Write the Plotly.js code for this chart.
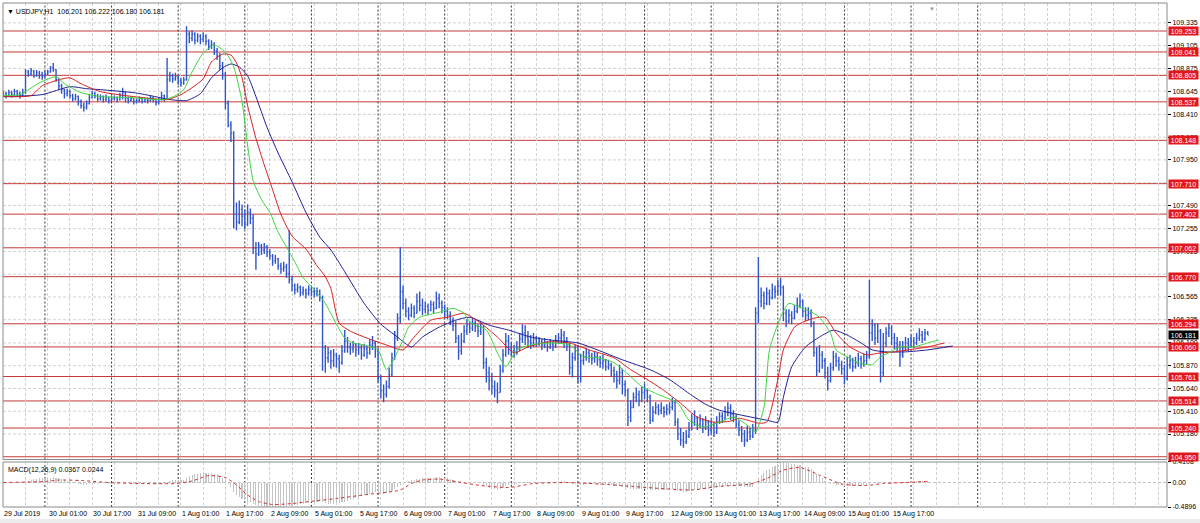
<!DOCTYPE html>
<html><head><meta charset="utf-8">
<script src="https://cdn.plot.ly/plotly-3.0.1.min.js"></script>
<style>html,body{margin:0;padding:0;background:#fff;}#chart{width:1200px;height:523px;}</style>
</head><body><div id="chart"></div>
<script>
// ---- H1 bars, USDJPY, 29 Jul 09:00 .. 15 Aug 22:00 (bar index 0..333) ----
const openP = [
108.61,108.62,108.60,108.63,108.61,108.64,108.62,108.60,
108.63,108.84,108.82,108.85,108.80,108.83,108.81,108.79,
108.82,108.84,108.88,108.86,108.76,108.70,108.66,108.62,
108.64,108.60,108.57,108.59,108.54,108.50,108.48,108.52,
108.58,108.62,108.60,108.57,108.59,108.56,108.58,108.55,
108.57,108.58,108.56,108.60,108.63,108.57,108.55,108.57,
108.54,108.55,108.57,108.54,108.56,108.55,108.58,108.56,
108.53,108.56,108.60,108.57,108.76,108.80,108.77,108.79,
108.75,108.73,108.76,109.22,109.18,109.22,109.16,109.20,
109.17,109.20,109.15,109.10,109.12,109.05,109.00,108.90,
108.82,108.52,108.30,108.22,107.40,107.32,107.45,107.38,
107.30,107.42,107.36,107.06,107.00,107.08,107.04,107.07,
107.02,106.98,106.93,106.95,106.88,106.85,106.87,106.80,
106.74,106.68,106.64,106.66,106.61,106.63,106.60,106.64,
106.62,106.60,106.62,106.56,106.05,105.95,106.00,105.92,
105.98,105.94,105.90,106.02,106.12,106.06,106.04,106.08,
106.03,106.05,105.98,106.04,106.00,106.08,106.10,106.02,
105.75,105.62,105.58,105.66,105.78,105.95,106.15,106.35,
106.62,106.50,106.42,106.38,106.45,106.40,106.52,106.48,
106.44,106.47,106.43,106.49,106.45,106.55,106.50,106.46,
106.42,106.38,106.33,106.28,106.15,106.02,106.12,106.22,
106.28,106.25,106.30,106.27,106.22,106.26,105.90,105.80,
105.72,105.66,105.62,105.60,105.82,105.98,106.12,106.05,
106.02,106.00,106.05,106.14,106.20,106.16,106.12,106.10,
106.14,106.10,106.12,106.08,106.11,106.06,106.09,106.07,
106.12,106.15,106.18,106.12,106.08,105.85,105.95,106.02,
105.98,105.92,105.96,106.00,105.97,105.94,105.96,105.93,
105.90,105.92,105.86,105.88,105.82,105.78,105.72,105.80,
105.68,105.62,105.35,105.45,105.55,105.58,105.52,105.60,
105.62,105.55,105.32,105.40,105.45,105.42,105.44,105.40,
105.43,105.45,105.50,105.30,105.18,105.12,105.10,105.16,
105.22,105.30,105.34,105.28,105.32,105.25,105.30,105.22,
105.27,105.20,105.30,105.36,105.34,105.40,105.44,105.38,
105.35,105.28,105.22,105.18,105.12,105.20,105.16,105.22,
106.40,106.52,106.58,106.50,106.60,106.56,106.64,106.62,
106.68,106.66,106.40,106.32,106.38,106.35,106.42,106.48,
106.52,106.42,106.38,106.40,106.30,106.00,105.82,105.98,
105.92,105.80,105.72,105.85,105.96,105.92,105.88,105.84,
105.74,105.88,105.92,105.86,105.90,105.94,105.89,105.92,
105.96,106.20,106.28,106.15,106.22,105.80,106.10,106.20,
106.25,106.15,106.10,106.08,105.98,106.05,106.10,106.08,
106.12,106.10,106.15,106.18,106.14,106.201];
const highP = [
108.65,108.64,108.66,108.65,108.67,108.66,108.64,108.67,
108.87,108.86,108.88,108.86,108.86,108.85,108.84,108.85,
108.86,108.90,108.93,108.87,108.78,108.72,108.67,108.67,
108.66,108.62,108.62,108.60,108.56,108.53,108.55,108.62,
108.65,108.64,108.62,108.61,108.60,108.61,108.59,108.60,
108.60,108.59,108.63,108.68,108.64,108.59,108.59,108.57,
108.57,108.59,108.58,108.58,108.58,108.60,108.59,108.57,
108.58,108.64,108.61,108.98,108.84,108.82,108.83,108.80,
108.78,108.79,109.30,109.25,109.26,109.24,109.23,109.22,
109.24,109.22,109.17,109.16,109.14,109.08,109.03,108.94,
108.84,108.55,108.34,108.24,107.52,107.54,107.50,107.45,
107.50,107.46,107.40,107.12,107.12,107.10,107.11,107.09,
107.05,107.00,106.99,106.96,106.91,106.92,106.90,107.24,
106.78,106.70,106.70,106.68,106.67,106.65,106.68,106.67,
106.66,106.66,106.64,106.58,106.08,106.06,106.03,106.04,
106.00,105.98,106.08,106.23,106.16,106.10,106.12,106.10,
106.10,106.08,106.09,106.07,106.14,106.17,106.12,106.05,
105.78,105.68,105.72,105.85,106.00,106.22,106.40,107.07,
106.68,106.55,106.46,106.50,106.48,106.60,106.62,106.55,
106.52,106.50,106.53,106.52,106.62,106.60,106.53,106.49,
106.46,106.42,106.36,106.32,106.18,106.20,106.28,106.34,
106.32,106.35,106.33,106.29,106.31,106.28,105.95,105.86,
105.80,105.72,105.70,105.88,106.04,106.20,106.18,106.10,
106.08,106.12,106.20,106.29,106.28,106.22,106.18,106.20,
106.17,106.16,106.14,106.15,106.12,106.14,106.12,106.18,
106.20,106.24,106.22,106.16,106.10,106.00,106.08,106.08,
105.99,106.02,106.05,106.03,106.00,106.02,106.00,105.97,
105.98,105.94,105.93,105.90,105.86,105.82,105.88,105.84,
105.72,105.64,105.52,105.60,105.65,105.62,105.66,105.69,
105.64,105.58,105.46,105.50,105.48,105.50,105.46,105.48,
105.50,105.55,105.52,105.34,105.24,105.20,105.22,105.30,
105.38,105.42,105.36,105.38,105.34,105.36,105.32,105.33,
105.30,105.36,105.40,105.40,105.46,105.50,105.48,105.42,
105.38,105.32,105.26,105.22,105.26,105.24,105.28,106.46,
106.97,106.66,106.62,106.66,106.64,106.70,106.68,106.74,
106.76,106.68,106.44,106.44,106.42,106.48,106.56,106.60,
106.54,106.46,106.46,106.44,106.32,106.06,106.08,106.02,
105.95,105.86,105.90,106.02,106.00,105.96,105.92,105.88,
105.96,105.98,105.95,105.96,106.00,105.97,105.99,106.02,
106.74,106.34,106.30,106.30,106.24,106.20,106.26,106.30,
106.28,106.20,106.16,106.12,106.12,106.16,106.15,106.18,
106.16,106.20,106.25,106.22,106.24,106.222];
const lowP = [
108.59,108.57,108.59,108.58,108.60,108.59,108.57,108.59,
108.62,108.79,108.80,108.78,108.79,108.77,108.76,108.78,
108.80,108.83,108.84,108.74,108.66,108.62,108.57,108.59,
108.57,108.54,108.55,108.50,108.47,108.44,108.46,108.51,
108.57,108.57,108.54,108.55,108.53,108.54,108.52,108.54,
108.55,108.53,108.55,108.56,108.53,108.52,108.54,108.51,
108.52,108.53,108.52,108.53,108.52,108.54,108.53,108.50,
108.51,108.55,108.54,108.56,108.74,108.73,108.75,108.71,
108.69,108.71,108.75,109.13,109.15,109.12,109.14,109.12,
109.14,109.11,109.06,109.07,109.01,108.96,108.86,108.76,
108.46,108.28,108.13,107.26,107.24,107.30,107.28,107.25,
107.28,107.30,107.00,106.84,106.98,106.99,107.00,106.97,
106.94,106.88,106.90,106.84,106.80,106.82,106.76,106.70,
106.62,106.59,106.61,106.57,106.58,106.55,106.58,106.57,
106.56,106.57,106.52,105.82,105.80,105.90,105.84,105.86,
105.85,105.80,105.88,106.00,106.00,105.98,106.00,105.96,
105.98,105.93,105.96,105.94,105.98,106.03,105.95,105.70,
105.54,105.50,105.55,105.64,105.76,105.93,106.12,106.30,
106.44,106.36,106.33,106.36,106.35,106.40,106.42,106.38,
106.40,106.38,106.42,106.40,106.44,106.45,106.40,106.36,
106.34,106.28,106.22,106.10,105.93,105.98,106.10,106.18,
106.20,106.22,106.21,106.16,106.18,105.84,105.70,105.62,
105.58,105.55,105.49,105.60,105.80,105.96,105.98,105.96,
105.95,105.98,106.02,106.10,106.08,106.05,106.04,106.06,
106.06,106.07,106.03,106.05,106.01,106.04,106.02,106.05,
106.09,106.10,106.05,106.02,105.78,105.75,105.92,105.69,
105.70,105.88,105.92,105.90,105.88,105.90,105.87,105.85,
105.84,105.82,105.83,105.76,105.70,105.64,105.68,105.58,
105.56,105.26,105.30,105.44,105.50,105.46,105.50,105.54,
105.50,105.28,105.30,105.38,105.37,105.38,105.35,105.37,
105.38,105.42,105.26,105.12,105.06,105.04,105.08,105.14,
105.22,105.26,105.22,105.24,105.19,105.22,105.16,105.18,
105.15,105.18,105.28,105.29,105.32,105.36,105.32,105.30,
105.24,105.16,105.10,105.05,105.10,105.12,105.14,105.18,
106.30,106.46,106.44,106.48,106.48,106.54,106.55,106.58,
106.58,106.32,106.26,106.30,106.29,106.34,106.40,106.45,
106.36,106.32,106.33,106.26,105.96,105.76,105.80,105.84,
105.74,105.62,105.70,105.82,105.86,105.82,105.78,105.68,
105.72,105.84,105.81,105.84,105.86,105.84,105.86,105.88,
105.94,106.12,106.08,106.10,105.70,105.76,106.06,106.16,
106.08,106.04,106.02,105.86,105.95,106.02,106.02,106.05,
106.05,106.08,106.12,106.10,106.12,106.180];
const closeP = [
108.62,108.60,108.63,108.61,108.64,108.62,108.60,108.63,
108.84,108.82,108.85,108.80,108.83,108.81,108.79,108.82,
108.84,108.88,108.86,108.76,108.70,108.66,108.62,108.64,
108.60,108.57,108.59,108.54,108.50,108.48,108.52,108.58,
108.62,108.60,108.57,108.59,108.56,108.58,108.55,108.57,
108.58,108.56,108.60,108.63,108.57,108.55,108.57,108.54,
108.55,108.57,108.54,108.56,108.55,108.58,108.56,108.53,
108.56,108.60,108.57,108.76,108.80,108.77,108.79,108.75,
108.73,108.76,109.22,109.18,109.22,109.16,109.20,109.17,
109.20,109.15,109.10,109.12,109.05,109.00,108.90,108.82,
108.52,108.30,108.22,107.40,107.32,107.45,107.38,107.30,
107.42,107.36,107.06,107.00,107.08,107.04,107.07,107.02,
106.98,106.93,106.95,106.88,106.85,106.87,106.80,106.74,
106.68,106.64,106.66,106.61,106.63,106.60,106.64,106.62,
106.60,106.62,106.56,106.05,105.95,106.00,105.92,105.98,
105.94,105.90,106.02,106.12,106.06,106.04,106.08,106.03,
106.05,105.98,106.04,106.00,106.08,106.10,106.02,105.75,
105.62,105.58,105.66,105.78,105.95,106.15,106.35,106.62,
106.50,106.42,106.38,106.45,106.40,106.52,106.48,106.44,
106.47,106.43,106.49,106.45,106.55,106.50,106.46,106.42,
106.38,106.33,106.28,106.15,106.02,106.12,106.22,106.28,
106.25,106.30,106.27,106.22,106.26,105.90,105.80,105.72,
105.66,105.62,105.60,105.82,105.98,106.12,106.05,106.02,
106.00,106.05,106.14,106.20,106.16,106.12,106.10,106.14,
106.10,106.12,106.08,106.11,106.06,106.09,106.07,106.12,
106.15,106.18,106.12,106.08,105.85,105.95,106.02,105.98,
105.92,105.96,106.00,105.97,105.94,105.96,105.93,105.90,
105.92,105.86,105.88,105.82,105.78,105.72,105.80,105.68,
105.62,105.35,105.45,105.55,105.58,105.52,105.60,105.62,
105.55,105.32,105.40,105.45,105.42,105.44,105.40,105.43,
105.45,105.50,105.30,105.18,105.12,105.10,105.16,105.22,
105.30,105.34,105.28,105.32,105.25,105.30,105.22,105.27,
105.20,105.30,105.36,105.34,105.40,105.44,105.38,105.35,
105.28,105.22,105.18,105.12,105.20,105.16,105.22,106.40,
106.52,106.58,106.50,106.60,106.56,106.64,106.62,106.68,
106.66,106.40,106.32,106.38,106.35,106.42,106.48,106.52,
106.42,106.38,106.40,106.30,106.00,105.82,105.98,105.92,
105.80,105.72,105.85,105.96,105.92,105.88,105.84,105.74,
105.88,105.92,105.86,105.90,105.94,105.89,105.92,105.96,
106.20,106.28,106.15,106.22,105.80,106.10,106.20,106.25,
106.15,106.10,106.08,105.98,106.05,106.10,106.08,106.12,
106.10,106.15,106.18,106.14,106.20,106.181];

// ---- Alligator lines (read at sample bars; shifted forward past the last bar) ----
const lipsBar = [0,6,13,19,22,28,35,46,58,62,65,68,72,76,80,83,86,88,90,93,96,99,102,105,108,112,116,120,123,126,130,135,138,140,144,146,150,157,162,166,168,174,178,181,185,190,197,204,209,214,220,226,230,235,243,247,252,258,263,269,271,274,276,280,283,287,290,294,298,300,304,308,313,316,319,323,328,333,337];
const lipsVal = [108.60,108.61,108.73,108.79,108.72,108.63,108.59,108.58,108.56,108.60,108.66,108.84,109.03,109.11,109.04,108.89,108.54,108.10,107.74,107.55,107.42,107.22,107.07,106.92,106.76,106.64,106.50,106.29,106.15,106.10,106.08,106.03,105.83,105.90,106.13,106.26,106.36,106.41,106.45,106.40,106.31,106.23,106.00,105.86,106.03,106.08,106.10,106.08,105.96,105.95,105.90,105.76,105.66,105.59,105.49,105.32,105.25,105.30,105.35,105.25,105.20,105.45,106.03,106.36,106.50,106.46,106.43,106.36,106.20,106.03,105.96,105.90,105.88,105.96,106.00,106.06,106.06,106.10,106.13];
const teethBar = [0,10,14,20,24,28,35,47,59,64,68,72,75,79,82,84,86,88,91,94,97,100,104,109,113,116,118,121,125,130,138,144,148,154,160,166,172,178,184,189,196,204,211,220,226,232,238,244,250,256,262,265,272,275,279,281,285,288,292,296,300,305,311,316,321,326,333,339];
const teethVal = [108.59,108.60,108.70,108.76,108.78,108.72,108.64,108.59,108.56,108.61,108.68,108.77,108.94,109.02,109.01,108.93,108.78,108.50,108.17,107.90,107.65,107.40,107.18,107.05,106.88,106.77,106.65,106.30,106.22,106.16,106.08,106.03,106.16,106.33,106.36,106.40,106.30,106.16,106.00,106.06,106.11,106.10,106.03,105.95,105.83,105.73,105.62,105.49,105.35,105.30,105.31,105.34,105.29,105.30,105.73,106.03,106.26,106.31,106.35,106.36,106.20,106.06,105.98,106.00,106.01,106.03,106.06,106.10];
const jawBar = [0,14,24,30,35,47,53,60,66,71,75,79,82,85,88,91,95,99,104,109,114,118,123,130,136,142,147,151,157,163,168,175,182,190,197,207,214,223,233,240,247,253,258,266,275,279,281,284,289,294,299,304,309,313,318,325,333,342];
const jawVal = [108.59,108.61,108.69,108.67,108.66,108.63,108.60,108.56,108.55,108.62,108.78,108.88,108.92,108.89,108.80,108.59,108.28,108.02,107.73,107.42,107.17,107.04,106.82,106.50,106.29,106.16,106.06,106.16,106.26,106.33,106.36,106.28,106.23,106.16,106.13,106.10,106.03,105.93,105.83,105.73,105.59,105.48,105.42,105.37,105.32,105.30,105.55,105.86,106.06,106.16,106.23,106.18,106.10,106.03,106.01,106.01,106.03,106.07];

// ---- MACD(12,26,9): histogram per bar, signal line at sample bars ----
const macdMain = [
0.00,0.00,0.01,0.00,0.01,0.01,0.00,0.01,
0.03,0.04,0.06,0.07,0.08,0.09,0.09,0.09,
0.10,0.10,0.11,0.10,0.09,0.07,0.05,0.04,
0.03,0.01,0.00,-0.02,-0.03,-0.04,-0.04,-0.03,
-0.03,-0.02,-0.02,-0.01,-0.01,-0.01,-0.02,-0.02,
-0.02,-0.02,-0.01,0.00,0.00,-0.01,-0.01,-0.02,
-0.02,-0.02,-0.02,-0.02,-0.02,-0.01,-0.01,-0.02,
-0.02,-0.02,-0.02,0.02,0.04,0.05,0.06,0.06,
0.06,0.06,0.10,0.13,0.16,0.17,0.18,0.19,
0.20,0.20,0.20,0.19,0.18,0.17,0.14,0.10,
0.05,-0.02,-0.08,-0.18,-0.25,-0.29,-0.32,-0.35,
-0.38,-0.39,-0.43,-0.45,-0.47,-0.48,-0.48,-0.49,
-0.4896,-0.49,-0.49,-0.49,-0.48,-0.48,-0.47,-0.46,
-0.46,-0.45,-0.44,-0.43,-0.42,-0.41,-0.40,-0.39,
-0.39,-0.38,-0.37,-0.39,-0.41,-0.42,-0.42,-0.42,
-0.41,-0.41,-0.39,-0.38,-0.36,-0.34,-0.32,-0.31,
-0.29,-0.27,-0.25,-0.24,-0.22,-0.20,-0.18,-0.19,
-0.21,-0.22,-0.21,-0.19,-0.17,-0.13,-0.09,-0.04,
0.00,0.02,0.04,0.05,0.06,0.07,0.08,0.09,
0.09,0.09,0.10,0.10,0.11,0.11,0.10,0.09,
0.08,0.07,0.05,0.04,0.01,-0.01,-0.01,-0.01,
-0.01,0.00,0.00,0.00,0.00,-0.04,-0.07,-0.10,
-0.11,-0.13,-0.14,-0.12,-0.10,-0.07,-0.05,-0.04,
-0.04,-0.03,-0.01,0.01,0.02,0.02,0.02,0.02,
0.02,0.02,0.02,0.02,0.02,0.02,0.02,0.02,
0.03,0.03,0.03,0.02,-0.01,-0.02,-0.03,-0.03,
-0.04,-0.04,-0.03,-0.03,-0.03,-0.03,-0.04,-0.04,
-0.04,-0.04,-0.04,-0.05,-0.06,-0.07,-0.07,-0.08,
-0.09,-0.11,-0.12,-0.12,-0.12,-0.12,-0.12,-0.12,
-0.12,-0.14,-0.14,-0.14,-0.14,-0.14,-0.14,-0.14,
-0.14,-0.13,-0.14,-0.16,-0.17,-0.18,-0.18,-0.17,
-0.16,-0.15,-0.14,-0.13,-0.13,-0.12,-0.12,-0.11,
-0.10,-0.10,-0.09,-0.08,-0.07,-0.06,-0.06,-0.06,
-0.06,-0.06,-0.07,-0.08,-0.08,-0.08,-0.08,0.01,
0.09,0.15,0.20,0.25,0.28,0.32,0.34,0.37,
0.39,0.4108,0.40,0.39,0.38,0.37,0.36,0.35,
0.34,0.32,0.31,0.28,0.24,0.18,0.13,0.09,
0.04,0.00,-0.02,-0.03,-0.04,-0.04,-0.05,-0.07,
-0.07,-0.07,-0.07,-0.07,-0.06,-0.06,-0.05,-0.04,
-0.03,-0.01,0.00,0.01,-0.01,-0.01,0.00,0.01,
0.02,0.02,0.02,0.01,0.01,0.02,0.02,0.02,
0.02,0.03,0.03,0.03,0.035,0.0367];
const signalBar = [0,15,20,28,38,50,62,68,74,80,84,88,92,97,104,112,120,131,143,147,151,157,163,172,182,191,203,215,227,248,257,269,275,281,287,294,302,311,317,325,333];
const signalVal = [0.00,0.02,0.05,0.04,0.00,-0.02,-0.02,0.03,0.14,0.10,-0.05,-0.25,-0.38,-0.44,-0.42,-0.37,-0.32,-0.24,-0.15,-0.02,0.05,0.07,0.02,-0.06,-0.10,-0.02,0.00,-0.03,-0.08,-0.15,-0.08,-0.03,0.08,0.25,0.30,0.15,-0.03,-0.06,-0.02,0.00,0.0244];

// ---- levels, ticks, labels ----
const levels = [109.253,109.041,108.805,108.537,108.148,107.710,107.402,107.062,106.770,106.294,106.060,105.761,105.514,105.240,104.950];
const priceTicks = [109.335,109.105,108.875,108.645,108.410,108.180,107.950,107.490,107.255,107.025,106.565,106.335,106.100,105.870,105.640,105.410,105.180];
const priceGrid = [109.335,109.105,108.875,108.645,108.410,108.180,107.950,107.720,107.490,107.255,107.025,106.795,106.565,106.335,106.100,105.870,105.640,105.410,105.180];
const lastPrice = 106.181;
const timeLabels = ["29 Jul 2019","30 Jul 01:00","30 Jul 17:00","31 Jul 09:00","1 Aug 01:00","1 Aug 17:00","2 Aug 09:00","5 Aug 01:00","5 Aug 17:00","6 Aug 09:00","7 Aug 01:00","7 Aug 17:00","8 Aug 09:00","9 Aug 01:00","9 Aug 17:00","12 Aug 09:00","13 Aug 01:00","13 Aug 17:00","14 Aug 09:00","15 Aug 01:00","15 Aug 17:00"];
const timeLabelBar = [0,16,32,48,64,80,96,112,128,144,160,176,192,208,224,240,256,272,288,304,320];
const daySeparatorBar = [15,39,63,87,111,135,159,183,207,231,255,279,303,327,351];
const macdTicks = [0.4108,0,-0.4896];
const macdTickText = ["0.4108","0.00","-0.4896"];

const barIdx = closeP.map((_, i) => i);
const gridVals = []; for (let v = 0; v <= 416; v += 8) gridVals.push(v);

const FONT = "Liberation Sans, Arial, sans-serif";
const barColor = "#2f55c8";
const gridColor = "#d2d2d2";
const gridDash = "3px,2px";

const traces = [
  {type:"ohlc", x:barIdx, open:openP, high:highP, low:lowP, close:closeP, xaxis:"x", yaxis:"y",
   increasing:{line:{color:barColor,width:1.4}}, decreasing:{line:{color:barColor,width:1.4}}, tickwidth:0.35, hoverinfo:"skip"},
  {type:"scatter", mode:"lines", x:jawBar, y:jawVal, xaxis:"x", yaxis:"y", line:{color:"#1f1f95",width:1,shape:"spline",smoothing:0.6}, hoverinfo:"skip"},
  {type:"scatter", mode:"lines", x:teethBar, y:teethVal, xaxis:"x", yaxis:"y", line:{color:"#d42020",width:1,shape:"spline",smoothing:0.6}, hoverinfo:"skip"},
  {type:"scatter", mode:"lines", x:lipsBar, y:lipsVal, xaxis:"x", yaxis:"y", line:{color:"#3fd43f",width:1,shape:"spline",smoothing:0.6}, hoverinfo:"skip"},
  {type:"bar", x:barIdx, y:macdMain, xaxis:"x", yaxis:"y2", width:0.4, marker:{color:"#c4c4c4",line:{width:0}}, hoverinfo:"skip"},
  {type:"scatter", mode:"lines", x:signalBar, y:signalVal, xaxis:"x", yaxis:"y2", line:{color:"#d03030",width:1,dash:"dot",shape:"spline",smoothing:0.6}, hoverinfo:"skip"}
];

const shapes = [];
// horizontal price grid (incl. levels hidden behind the red price boxes)
priceGrid.forEach(v => shapes.push({type:"line", xref:"paper", x0:0, x1:1, yref:"y", y0:v, y1:v, layer:"below", line:{color:gridColor, width:1, dash:gridDash}}));
// red horizontal levels
levels.forEach(v => shapes.push({type:"line", xref:"paper", x0:0, x1:1, yref:"y", y0:v, y1:v, layer:"below", line:{color:"#c83a3a", width:1}}));
// day separators
daySeparatorBar.forEach(d => {
  shapes.push({type:"line", xref:"x", x0:d, x1:d, yref:"y domain", y0:0, y1:1, layer:"below", line:{color:"#333", width:1, dash:"2px,2px"}});
  shapes.push({type:"line", xref:"x", x0:d, x1:d, yref:"y2 domain", y0:0, y1:1, layer:"below", line:{color:"#333", width:1, dash:"2px,2px"}});
});
// MACD zero line
shapes.push({type:"line", xref:"paper", x0:0, x1:1, yref:"y2", y0:0, y1:0, layer:"below", line:{color:"#c0c0c0", width:1, dash:gridDash}});
// panel frames
shapes.push({type:"rect", xref:"paper", x0:0, x1:1, yref:"y domain", y0:0, y1:1, line:{color:"#8a8a8a", width:1}});
shapes.push({type:"rect", xref:"paper", x0:0, x1:1, yref:"y2 domain", y0:0, y1:1, line:{color:"#8a8a8a", width:1}});
// window bottom strip
shapes.push({type:"rect", xref:"paper", x0:-0.01, x1:1.04, yref:"paper", y0:-0.024, y1:-0.04, fillcolor:"#ececec", line:{width:0}});

const annotations = [];
levels.forEach(v => annotations.push({xref:"paper", x:1, xanchor:"left", xshift:1, yref:"y", y:v, yanchor:"middle",
  text:v.toFixed(3), showarrow:false, bgcolor:"#e3171b", borderpad:0, width:29, height:8, align:"center",
  font:{family:FONT, size:7, color:"#ffffff"}}));
annotations.push({xref:"paper", x:1, xanchor:"left", xshift:1, yref:"y", y:lastPrice, yanchor:"middle",
  text:lastPrice.toFixed(3), showarrow:false, bgcolor:"#000000", borderpad:0, width:29, height:8, align:"center",
  font:{family:FONT, size:7, color:"#ffffff"}});
timeLabels.forEach((t, i) => annotations.push({xref:"x", x:timeLabelBar[i], xanchor:"left", xshift:-1, yref:"paper", y:0, yanchor:"top", yshift:-1,
  text:t, showarrow:false, font:{family:FONT, size:7, color:"#000"}}));
annotations.push({xref:"paper", x:0, xanchor:"left", xshift:2, yref:"paper", y:1, yanchor:"top", yshift:-3,
  text:"▼ USDJPY,H1&nbsp;&nbsp;106.201 106.222 106.180 106.181", showarrow:false, font:{family:FONT, size:7, color:"#000"}});
annotations.push({xref:"paper", x:0, xanchor:"left", xshift:3, yref:"y2 domain", y:1, yanchor:"top", yshift:-2,
  text:"MACD(12,26,9) 0.0367 0.0244", showarrow:false, font:{family:FONT, size:7, color:"#000"}});
annotations.push({xref:"paper", x:0.798, xanchor:"center", yref:"paper", y:1, yanchor:"top", yshift:-1,
  text:"▼", showarrow:false, font:{family:FONT, size:6, color:"#9a9a9a"}});

const layout = {
  width:1200, height:523,
  margin:{l:3, r:33, t:3, b:16},
  paper_bgcolor:"#ffffff", plot_bgcolor:"#ffffff",
  showlegend:false,
  font:{family:FONT, size:7, color:"#000"},
  xaxis:{range:[-0.11,419.2], anchor:"y2", tickvals:gridVals, showticklabels:false, ticks:"",
         showgrid:true, gridcolor:gridColor, griddash:gridDash, gridwidth:1, zeroline:false, showline:false,
         rangeslider:{visible:false}, fixedrange:true},
  yaxis:{domain:[0.0942,1], range:[104.922,109.536], side:"right", anchor:"x",
         tickvals:priceTicks, ticktext:priceTicks.map(v => v.toFixed(3)),
         ticks:"outside", ticklen:3, tickcolor:"#000", tickwidth:1,
         showgrid:false, zeroline:false, showline:false,
         tickfont:{family:FONT, size:7, color:"#000"}, fixedrange:true},
  yaxis2:{domain:[0,0.0893], range:[-0.4896,0.4108], side:"right", anchor:"x",
         tickvals:macdTicks, ticktext:macdTickText, ticks:"outside", ticklen:3, tickcolor:"#000",
         showgrid:false, zeroline:false, showline:false,
         tickfont:{family:FONT, size:7, color:"#000"}, fixedrange:true},
  bargap:0,
  shapes:shapes,
  annotations:annotations
};

Plotly.newPlot("chart", traces, layout, {staticPlot:true, displayModeBar:false});
</script>
</body></html>
